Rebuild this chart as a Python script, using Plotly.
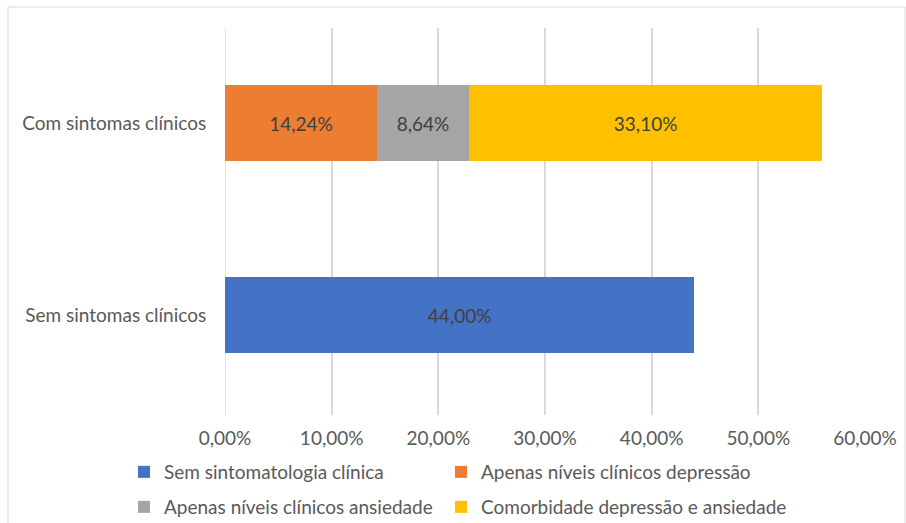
import plotly.graph_objects as go

categories = ["Sem sintomas clínicos", "Com sintomas clínicos"]
series_names = [
    "Sem sintomatologia clínica",
    "Apenas níveis clínicos depressão",
    "Apenas níveis clínicos ansiedade",
    "Comorbidade depressão e ansiedade",
]
sem_sintomatologia = [44.00, None]
apenas_depressao = [None, 14.24]
apenas_ansiedade = [None, 8.64]
comorbidade = [None, 33.10]
tick_values = [0, 10, 20, 30, 40, 50, 60]
tick_labels = ["0,00%", "10,00%", "20,00%", "30,00%", "40,00%", "50,00%", "60,00%"]

colors = ["#4472C4", "#ED7D31", "#A5A5A5", "#FFC000"]
values = [sem_sintomatologia, apenas_depressao, apenas_ansiedade, comorbidade]
legend_ids = ["legend", "legend2", "legend3", "legend4"]
legend_pos = [(124, 472), (441, 472), (124, 507), (441, 507)]

FONT = "Lato"
FS = 19

fig = go.Figure()
for name, vals, col, lg in zip(series_names, values, colors, legend_ids):
    fig.add_trace(go.Bar(
        y=categories, x=vals, name=name, orientation="h", legend=lg,
        marker=dict(color=col, line=dict(width=0)),
        texttemplate="%{x:.2f}%", textposition="inside",
        insidetextanchor="middle",
        textfont=dict(color="#404040", size=FS, family=FONT),
    ))

leg_common = dict(orientation="h", xref="container", yref="container",
                  xanchor="left", yanchor="middle",
                  font=dict(size=FS, color="#595959", family=FONT),
                  bgcolor="rgba(0,0,0,0)", itemwidth=30)

legends = {}
for lg, (px, py) in zip(legend_ids, legend_pos):
    legends[lg] = dict(x=px / 906, y=(523 - py) / 523, **leg_common)

fig.update_layout(
    barmode="stack",
    bargap=0.604,
    width=906, height=523,
    margin=dict(l=225, r=41, t=28, b=108, autoexpand=False),
    paper_bgcolor="white", plot_bgcolor="white",
    separators=",.",
    font=dict(family=FONT, size=FS, color="#595959"),
    xaxis=dict(range=[0, 60], tickvals=tick_values, ticktext=tick_labels,
               showgrid=True, gridcolor="#D9D9D9", gridwidth=1.5,
               zeroline=False, showline=False, ticks="outside", ticklen=6,
               tickcolor="rgba(0,0,0,0)", automargin=False),
    yaxis=dict(range=[-0.52, 1.495], showgrid=False, zeroline=False, showline=False,
               ticks="outside", ticklen=14, tickcolor="rgba(0,0,0,0)", automargin=False),
    showlegend=True,
    **legends,
)
fig.add_shape(type="line", xref="x", yref="paper", x0=0, x1=0, y0=0, y1=1,
              line=dict(color="#D9D9D9", width=1.5), layer="below")
fig.add_shape(type="rect", xref="paper", yref="paper",
              x0=(8 - 225) / 640, x1=(905 - 225) / 640,
              y0=(523 - 530 - 108) / 387, y1=(523 - 7 - 108) / 387,
              line=dict(color="#D9D9D9", width=1), fillcolor="rgba(0,0,0,0)")
fig.write_html("out.html", config={"displayModeBar": False},
               post_script="document.body.style.margin='0';")
